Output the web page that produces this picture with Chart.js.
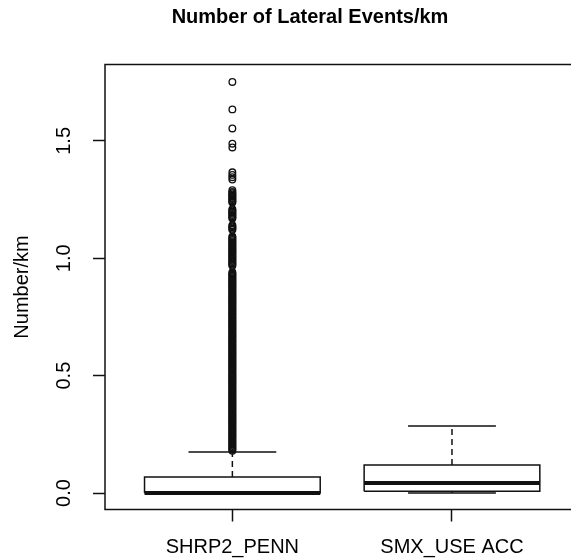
<!DOCTYPE html>
<html>
<head>
<meta charset="utf-8">
<script src="https://cdn.jsdelivr.net/npm/chart.js@4.4.0/dist/chart.umd.min.js"></script>
<style>
  html, body { margin: 0; padding: 0; background: #fff; overflow: hidden; }
  #wrap { width: 571px; height: 559px; overflow: hidden; }
</style>
</head>
<body>
<div id="wrap"><canvas id="c" width="584" height="559"></canvas></div>
<script>
// ---- data ----
const categories = ["SHRP2_PENN", "SMX_USE ACC"];
const whiskerLow  = [0.000, 0.000];
const q1          = [0.000, 0.008];
const median      = [0.000, 0.043];
const q3          = [0.068, 0.119];
const whiskerHigh = [0.175, 0.285];
const outliersPenn = [
  0.180,0.185,0.190,0.195,0.200,0.205,0.210,0.215,0.220,0.225,0.230,0.235,0.240,0.245,0.250,0.255,0.260,0.265,0.270,0.275,
  0.280,0.285,0.290,0.295,0.300,0.305,0.310,0.315,0.320,0.325,0.330,0.335,0.340,0.345,0.350,0.355,0.360,0.365,0.370,0.375,
  0.380,0.385,0.390,0.395,0.400,0.405,0.410,0.415,0.420,0.425,0.430,0.435,0.440,0.445,0.450,0.455,0.460,0.465,0.470,0.475,
  0.480,0.485,0.490,0.495,0.500,0.505,0.510,0.515,0.520,0.525,0.530,0.535,0.540,0.545,0.550,0.555,0.560,0.565,0.570,0.575,
  0.580,0.585,0.590,0.595,0.600,0.605,0.610,0.615,0.620,0.625,0.630,0.635,0.640,0.645,0.650,0.655,0.660,0.665,0.670,0.675,
  0.680,0.685,0.690,0.695,0.700,0.705,0.710,0.715,0.720,0.725,0.730,0.735,0.740,0.745,0.750,0.755,0.760,0.765,0.770,0.775,
  0.780,0.785,0.790,0.795,0.800,0.805,0.810,0.815,0.820,0.825,0.830,0.835,0.840,0.845,0.850,0.855,0.860,0.865,0.870,0.875,
  0.880,0.885,0.890,0.895,0.900,0.905,0.910,0.915,0.920,0.925,0.930,0.935,0.940,
  0.968,0.973,0.978,0.983,0.988,0.993,0.998,1.003,1.008,1.013,1.018,1.023,1.028,1.033,1.038,1.043,1.048,1.053,1.058,1.063,
  1.068,1.073,1.078,1.083,1.088,1.093,
  1.121,1.126,1.131,1.136,1.141,
  1.169,1.174,1.179,1.184,1.189,1.194,1.199,1.204,1.209,
  1.237,1.242,1.247,1.252,1.257,1.262,1.267,1.272,1.277,1.282,1.290,
  1.335,1.345,1.355,1.366,1.472,1.488,1.553,1.634,1.751
];
const outliersSmx = [];
const outliers = [outliersPenn, outliersSmx];
const yTicks = [0.0, 0.5, 1.0, 1.5];
const xTicks = [1, 2];
const yRange = [-0.0702, 1.8252];
const xRange = [0.42, 2.58];

// ---- style constants ----
const INK = '#111';
const HALF_BOX = 0.4;
const HALF_CAP = 0.2;
const FONT = 'Liberation Sans, Arial, sans-serif';

const lineDs = (pts, width, dash) => ({
  type: 'scatter', data: pts, showLine: true, borderColor: INK, borderWidth: width,
  borderDash: dash || [], pointRadius: 0, pointHoverRadius: 0, fill: false, tension: 0,
  backgroundColor: 'rgba(0,0,0,0)'
});

const datasets = [];
categories.forEach((cat, i) => {
  const x = i + 1;
  datasets.push(lineDs([
    {x: x - HALF_BOX, y: q1[i]}, {x: x + HALF_BOX, y: q1[i]},
    {x: x + HALF_BOX, y: q3[i]}, {x: x - HALF_BOX, y: q3[i]},
    {x: x - HALF_BOX, y: q1[i]}
  ], 1.5));
  datasets.push(lineDs([{x: x, y: q3[i]}, {x: x, y: whiskerHigh[i]}], 1.5, [6, 4]));
  datasets.push(lineDs([{x: x, y: q1[i]}, {x: x, y: whiskerLow[i]}], 1.5, [6, 4]));
  datasets.push(lineDs([{x: x - HALF_CAP, y: whiskerHigh[i]}, {x: x + HALF_CAP, y: whiskerHigh[i]}], 1.5));
  datasets.push(lineDs([{x: x - HALF_CAP, y: whiskerLow[i]}, {x: x + HALF_CAP, y: whiskerLow[i]}], 1.5));
  datasets.push(lineDs([{x: x - HALF_BOX, y: median[i]}, {x: x + HALF_BOX, y: median[i]}], 4));
  datasets.push({
    type: 'scatter',
    data: outliers[i].map(v => ({x: x, y: v})),
    showLine: false, pointStyle: 'circle', pointRadius: 3.3, pointHoverRadius: 3.3,
    borderColor: INK, borderWidth: 1.35, backgroundColor: 'rgba(0,0,0,0)'
  });
});

const framePlugin = {
  id: 'frame',
  afterDraw(chart) {
    const {ctx, chartArea: a} = chart;
    ctx.save();
    ctx.strokeStyle = INK;
    ctx.lineWidth = 1.5;
    ctx.strokeRect(a.left, a.top, a.right - a.left, a.bottom - a.top);
    ctx.restore();
  }
};

new Chart(document.getElementById('c'), {
  type: 'scatter',
  data: { datasets },
  plugins: [framePlugin],
  options: {
    responsive: false,
    animation: false,
    layout: { padding: { left: 38, right: 2, top: 0, bottom: 0 } },
    plugins: {
      legend: { display: false },
      tooltip: { enabled: false },
      title: {
        display: true, text: 'Number of Lateral Events/km', color: '#000',
        font: { family: FONT, size: 20, weight: 'bold' },
        padding: { top: 5.5, bottom: 35 }
      }
    },
    scales: {
      x: {
        type: 'linear', min: xRange[0], max: xRange[1],
        afterBuildTicks: s => { s.ticks = xTicks.map(v => ({value: v})); },
        afterFit: s => { s.height = 49.5; },
        ticks: {
          callback: v => categories[v - 1],
          font: { family: FONT, size: 20 }, color: '#000', padding: 14,
          maxRotation: 0, minRotation: 0, autoSkip: false
        },
        grid: { drawOnChartArea: false, drawTicks: true, tickLength: 12, tickColor: INK, tickWidth: 1.5 },
        border: { display: false }
      },
      y: {
        type: 'linear', min: yRange[0], max: yRange[1],
        afterBuildTicks: s => { s.ticks = yTicks.map(v => ({value: v})); },
        afterFit: s => { s.width = 67; },
        ticks: {
          callback: v => v.toFixed(1),
          font: { family: FONT, size: 20 }, color: '#000', padding: 15,
          minRotation: 90, maxRotation: 90, crossAlign: 'center', autoSkip: false
        },
        grid: { drawOnChartArea: false, drawTicks: true, tickLength: 12, tickColor: INK, tickWidth: 1.5 },
        border: { display: false },
        title: {
          display: true, text: 'Number/km', color: '#000',
          font: { family: FONT, size: 20 }, padding: { top: -28, bottom: 0 }
        }
      }
    }
  }
});
</script>
</body>
</html>
